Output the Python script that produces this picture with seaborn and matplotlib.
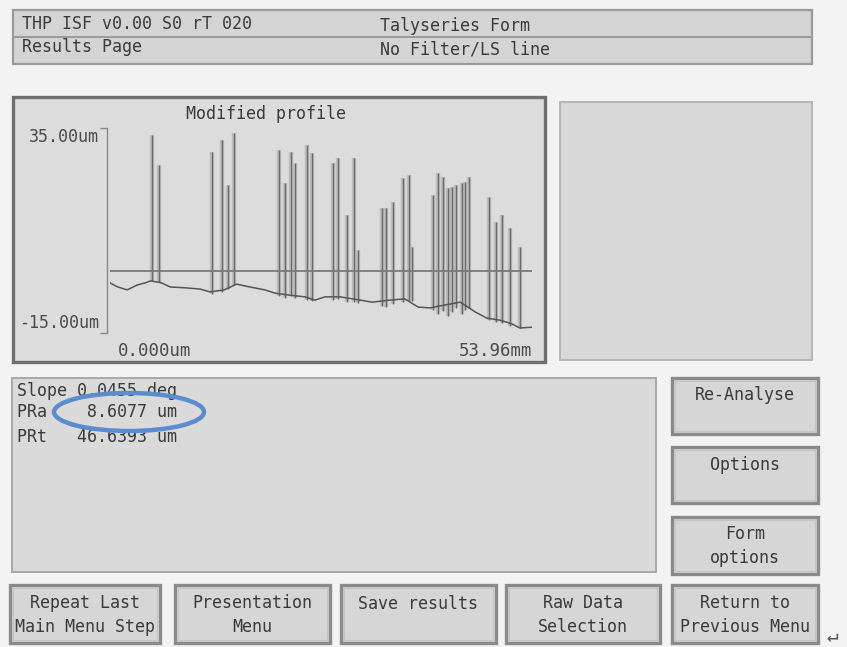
import numpy as np
import pandas as pd
import matplotlib
matplotlib.use("Agg")
import matplotlib.pyplot as plt
import matplotlib.transforms as mtransforms
from matplotlib.patches import Rectangle, Ellipse
import seaborn as sns

# ---------------- data ----------------
# baseline of the modified profile (mm, um)
base_x = [0.0, 1.0, 2.2, 3.5, 4.5, 5.2, 6.6, 7.7, 9.6, 11.5, 12.8, 14.6, 16.2,
          17.9, 19.8, 21.1, 23.0, 24.9, 26.2, 27.5, 29.4, 32.0, 33.5, 35.8,
          37.7, 39.4, 40.9, 42.8, 44.8, 46.7, 48.2, 49.9, 51.4, 52.4, 54.0]
base_y = [-2.9, -3.9, -4.6, -3.4, -2.9, -2.4, -2.9, -3.9, -4.1, -4.4, -5.1,
          -4.6, -3.2, -3.9, -4.6, -5.4, -5.9, -6.3, -7.1, -6.3, -6.3, -7.1,
          -7.6, -7.1, -6.8, -8.8, -9.0, -8.3, -7.6, -10.0, -11.5, -12.0,
          -12.9, -13.9, -13.7]

# spikes: position (mm), top (um), foot (um)
spike_x = [5.4, 6.3, 13.0, 14.3, 15.1, 15.9, 21.6, 22.4, 23.1, 23.7, 25.2, 25.8,
           28.5, 29.2, 30.3, 31.2, 31.7, 34.8, 35.3, 36.2, 37.5, 38.2, 38.6,
           41.3, 41.9, 42.6, 43.2, 43.7, 44.2, 45.0, 45.4, 45.9, 48.5, 49.4,
           50.1, 51.1, 52.4]
spike_top = [33.2, 25.9, 29.0, 32.0, 21.0, 33.7, 29.5, 21.5, 29.0, 26.3, 30.7,
             28.8, 26.3, 27.6, 13.7, 27.6, 5.1, 15.4, 15.4, 16.8, 22.7, 23.4,
             5.9, 18.5, 23.9, 22.9, 20.2, 20.5, 21.0, 21.5, 21.7, 22.9, 18.0,
             12.0, 13.7, 10.5, 5.9]
spike_low = [-2.5, -2.8, -5.5, -5.0, -4.5, -3.5, -6.0, -6.5, -6.2, -6.5, -7.0,
             -7.2, -7.0, -6.8, -7.5, -7.5, -7.8, -8.5, -8.8, -8.0, -7.5, -7.2,
             -7.3, -9.5, -10.5, -9.8, -11.0, -10.0, -9.0, -10.5, -9.5, -9.0,
             -12.0, -12.5, -12.8, -13.5, -14.0]

ls_level = 0.0
x_range = [0.0, 53.96]
y_range = [-15.0, 35.0]
y_labels = ["-15.00um", "35.00um"]
x_labels = ["0.000um", "53.96mm"]

header_left = ["THP ISF v0.00 S0 rT 020", "Results Page"]
header_right = ["Talyseries Form", "No Filter/LS line"]
results_lines = ["Slope 0.0455 deg", "PRa    8.6077 um", "PRt   46.6393 um"]
side_buttons = ["Re-Analyse", "Options", "Form\noptions"]
bottom_buttons = ["Repeat Last\nMain Menu Step", "Presentation\nMenu",
                  "Save results", "Raw Data\nSelection", "Return to\nPrevious Menu"]

# ---------------- figure ----------------
sns.set_style("white")
plt.rcParams["font.family"] = ["DejaVu Sans Mono", "DejaVu Sans"]

W, H = 847, 647
fig = plt.figure(figsize=(W / 100, H / 100), dpi=100)
fig.patch.set_facecolor("#f3f3f3")

bg = fig.add_axes([0, 0, 1, 1])
bg.set_xlim(0, W)
bg.set_ylim(H, 0)
bg.axis("off")

TXT = "#3a3a3a"
FILL = "#d9d9d9"


def panel(x0, y0, x1, y1, edge="#a0a0a0", lw=1.5, fill=FILL):
    bg.add_patch(Rectangle((x0, y0), x1 - x0, y1 - y0, facecolor=fill,
                           edgecolor=edge, linewidth=lw))


def button(x0, y0, x1, y1, label, ty=None):
    panel(x0, y0, x1, y1, edge="#8a8a8a", lw=2.4, fill="#d6d6d6")
    bg.add_patch(Rectangle((x0 + 3, y0 + 3), x1 - x0 - 6, y1 - y0 - 6,
                           facecolor="none", edgecolor="#c4c4c4", linewidth=0.8))
    yy = ty if ty is not None else (y0 + y1) / 2
    bg.text((x0 + x1) / 2, yy, label, ha="center", va="center", fontsize=12,
            color=TXT, linespacing=1.45)


# header
panel(13, 10, 812, 64, edge="#9a9a9a", lw=1.6, fill="#d4d4d4")
bg.plot([13, 812], [37, 37], color="#9a9a9a", lw=1.4)
for i, (l, r) in enumerate(zip(header_left, header_right)):
    yy = 24 + i * 23
    bg.text(22, yy, l, ha="left", va="center", fontsize=12, color=TXT)
    bg.text(380, yy + 2, r, ha="left", va="center", fontsize=12, color=TXT)

# profile panel + empty panel
panel(13, 97, 545, 362, edge="#6e6e6e", lw=2.4, fill="#dcdcdc")
bg.text(266, 114, "Modified profile", ha="center", va="center",
        fontsize=12, color=TXT)
panel(560, 102, 812, 360, edge="#b5b5b5", lw=1.4, fill="#d8d8d8")

# results panel
panel(12, 378, 656, 572, edge="#a8a8a8", lw=1.4, fill="#dadada")
for i, s in enumerate(results_lines):
    bg.text(17, [391, 412, 437][i], s, ha="left", va="center",
            fontsize=12, color=TXT)
bg.add_patch(Ellipse((129, 412), 150, 38, facecolor="none",
                     edgecolor="#5b8ccd", linewidth=3.2, zorder=5))

# side buttons
button(672, 378, 818, 434, side_buttons[0], ty=395)
button(672, 447, 818, 503, side_buttons[1], ty=465)
button(672, 517, 818, 574, side_buttons[2], ty=546)

# bottom buttons
bx = [(10, 160), (175, 330), (341, 496), (506, 660), (672, 818)]
for (x0, x1), lab in zip(bx, bottom_buttons):
    ty = 604 if "\n" not in lab else 615
    button(x0, 585, x1, 643, lab, ty=ty)
bg.text(832, 636, "\u21b5", ha="center", va="center", fontsize=14, color="#555555")

# ---------------- profile plot ----------------
ax_l, ax_r = 110, 532
ax_t, ax_b = 127.5, 332.5
ax = fig.add_axes([ax_l / W, 1 - ax_b / H, (ax_r - ax_l) / W, (ax_b - ax_t) / H])
ax.set_facecolor("none")
ax.set_xlim(x_range)
ax.set_ylim(y_range)

ax.vlines(spike_x, spike_low, spike_top, colors="#bdbdbd", linewidth=3.2)
ax.vlines(spike_x, spike_low, spike_top, colors="#6a6a6a", linewidth=1.0)
df = pd.DataFrame({"x": base_x, "y": base_y})
sns.lineplot(data=df, x="x", y="y", ax=ax, color="#555555", linewidth=1.1)
ax.axhline(ls_level, color="#7a7a7a", linewidth=1.3)

for s in ["top", "right", "bottom"]:
    ax.spines[s].set_visible(False)
ax.spines["left"].set_color("#8a8a8a")
ax.spines["left"].set_linewidth(1.0)
ax.spines["left"].set_position(("outward", 2))

ax.set_yticks(y_range)
ax.set_yticklabels(y_labels, fontsize=12, color="#4a4a4a")
ax.tick_params(axis="y", left=True, direction="out", length=5, width=1.0,
               color="#8a8a8a", pad=1)
yl = ax.get_yticklabels()
yl[0].set_va("bottom")
yl[1].set_va("top")

ax.set_xticks(x_range)
ax.set_xticklabels(x_labels, fontsize=12.5, color="#4a4a4a")
ax.tick_params(axis="x", bottom=False, length=0, pad=7)
xl = ax.get_xticklabels()
xl[0].set_ha("left")
xl[0].set_transform(xl[0].get_transform() +
                    mtransforms.ScaledTranslation(0.08, 0, fig.dpi_scale_trans))
xl[1].set_ha("right")
ax.set_xlabel("")
ax.set_ylabel("")

fig.savefig("out.png", dpi=100, facecolor=fig.get_facecolor())
